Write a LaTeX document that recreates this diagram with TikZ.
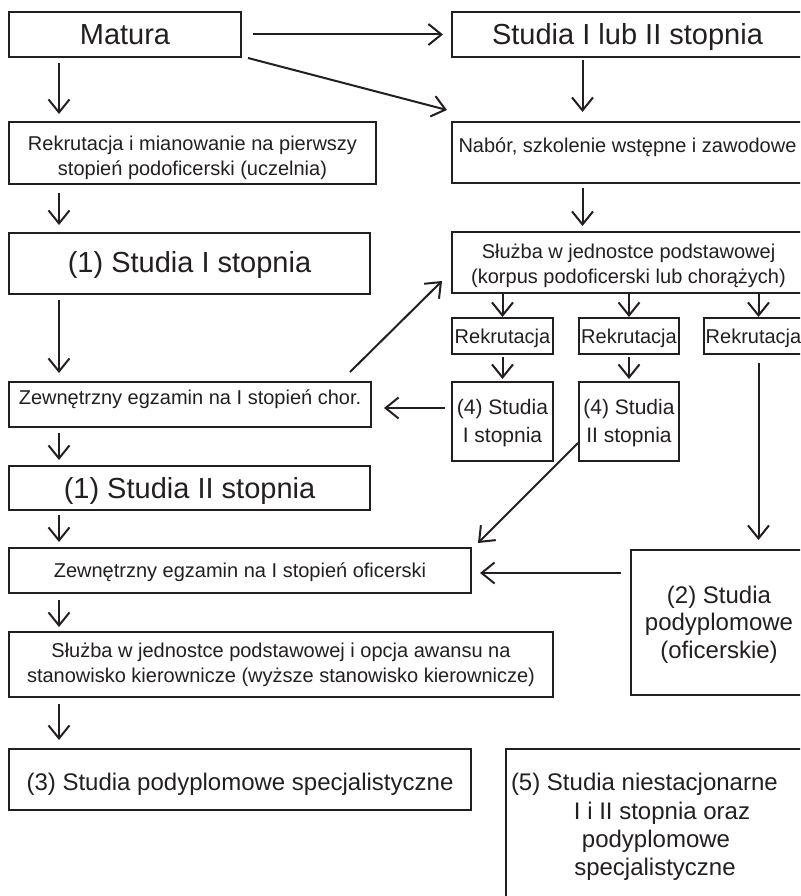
\documentclass[tikz,border=0pt]{standalone}
\usepackage{fontspec}
\setmainfont{Liberation Sans}
\usetikzlibrary{arrows.meta,calc}
\definecolor{ink}{HTML}{231F20}
\begin{document}
\begin{tikzpicture}[x=1pt,y=-1pt,
  box/.style={draw=ink, line width=2pt, text=ink, inner sep=0pt, outer sep=0pt},
  big/.style={font=\fontsize{29}{33}\selectfont, text height=21pt, text depth=0pt},
  mid/.style={font=\fontsize{20}{25}\selectfont},
  mid1/.style={mid, text height=14.3pt, text depth=0pt},
  midf/.style={font=\fontsize{21}{28}\selectfont},
  lrg/.style={font=\fontsize{24}{27.5}\selectfont},
  lrg1/.style={lrg, text height=21.2pt, text depth=0pt},
  arr/.style={draw=ink, line width=2pt, -{Straight Barb[length=13pt,width=21pt]}},
  lbl/.style={text=ink, inner sep=0pt, outer sep=0pt, font=\fontsize{24}{28}\selectfont}
]
\useasboundingbox (0,0) rectangle (800,896);
\clip (0,0) rectangle (800,896);
\fill[white] (0,0) rectangle (800,896);

% left column
\node[box,big,minimum width=232pt,minimum height=45pt] (matura) at (125,34.5) {Matura};
\node[box,mid,align=center,minimum width=367pt,minimum height=62pt] (rekr1) at (192.5,153) {\rule{0pt}{23.2pt}Rekrutacja i mianowanie na pierwszy\\stopień podoficerski (uczelnia)};
\node[box,big,text depth=4pt,minimum width=361pt,minimum height=61pt] (st1) at (189.5,263.5) {(1) Studia I stopnia};
\node[box,mid1,text depth=15pt,minimum width=362pt,minimum height=45pt] (chor) at (190,404.5) {Zewnętrzny egzamin na I stopień chor.};
\node[box,big,minimum width=361pt,minimum height=44pt] (st2) at (189.5,488) {(1) Studia II stopnia};
\node[box,mid1,minimum width=462pt,minimum height=45pt] (ofic) at (240,570.5) {Zewnętrzny egzamin na I stopień oficerski};
\node[box,mid,align=center,minimum width=544pt,minimum height=65pt] (sluzba2) at (281,664.5) {Służba w jednostce podstawowej i opcja awansu na\\stanowisko kierownicze (wyższe stanowisko kierownicze)};
\node[box,lrg1,minimum width=462pt,minimum height=61pt] (spec3) at (240,779.5) {(3) Studia podyplomowe specjalistyczne};

% right column
\node[box,big,minimum width=351pt,minimum height=45pt] (studia12) at (627.5,34.5) {Studia I lub II stopnia};
\node[box,mid1,text depth=14pt,minimum width=351pt,minimum height=61pt] (nabor) at (627.5,152.5) {Nabór, szkolenie wstępne i zawodowe};
\node[box,mid,align=center,minimum width=353pt,minimum height=61pt] (sluzba1) at (628.5,262.5) {\rule{0pt}{20.2pt}Służba w jednostce podstawowej\\(korpus podoficerski lub chorążych)};
\node[box,mid1,minimum width=101pt,minimum height=36pt] (rka) at (502.5,336) {Rekrutacja};
\node[box,mid1,minimum width=100pt,minimum height=36pt] (rkb) at (629,336) {Rekrutacja};
\node[box,mid1,minimum width=100pt,minimum height=36pt] (rkc) at (753.5,336) {Rekrutacja};
\node[box,midf,align=center,minimum width=101pt,minimum height=79pt] (s4a) at (502.5,421.5) {\rule{0pt}{19.3pt}(4) Studia\\I stopnia};
\node[box,midf,align=center,minimum width=100pt,minimum height=79pt] (s4b) at (629,421.5) {\rule{0pt}{19.3pt}(4) Studia\\II stopnia};
\node[box,lrg,align=center,minimum width=176pt,minimum height=145pt] (pody2) at (719,622.5) {\rule{0pt}{21pt}(2) Studia\\podyplomowe\\(oficerskie)};
\node[box,minimum width=314pt,minimum height=161pt,anchor=north west] (s5) at (506,749) {};
\node[lbl,anchor=base west] (s5a) at (511,790) {(5) Studia niestacjonarne};
\node[lbl,anchor=base] (s5b) at (662,819) {I i II stopnia oraz};
\node[lbl,anchor=base] (s5c) at (656,847) {podyplomowe};
\node[lbl,anchor=base] (s5d) at (655,875) {specjalistyczne};

% connectors, left column
\draw[arr,shorten <=6pt,shorten >=8pt] ([xshift=50pt]matura.south west) -- ([xshift=50pt]rekr1.north west);
\draw[arr,shorten <=9pt,shorten >=8pt] ([xshift=50pt]rekr1.south west) -- ([xshift=50pt]st1.north west);
\draw[arr,shorten <=6pt,shorten >=9pt] ([xshift=50pt]st1.south west) -- ([xshift=50pt]chor.north west);
\draw[arr,shorten <=6pt,shorten >=6pt] ([xshift=50pt]chor.south west) -- ([xshift=50pt]st2.north west);
\draw[arr,shorten <=5pt,shorten >=6pt] ([xshift=50pt]st2.south west) -- ([xshift=50pt]ofic.north west);
\draw[arr,shorten <=7pt,shorten >=5pt] ([xshift=50pt]ofic.south west) -- ([xshift=50pt]sluzba2.north west);
\draw[arr,shorten <=7pt,shorten >=9pt] ([xshift=50pt]sluzba2.south west) -- ([xshift=50pt]spec3.north west);

% connectors from Matura
\draw[arr,shorten <=12pt,shorten >=9pt] (matura.east) -- (studia12.west);
\draw[arr] ($(matura.south east)+(7,1)$) -- ($(nabor.north west)+(-5,-12)$);

% right column
\draw[arr,shorten <=3pt,shorten >=10pt] ([xshift=130.5pt]studia12.south west) -- ([xshift=130.5pt]nabor.north west);
\draw[arr,shorten <=5pt,shorten >=6pt] ([xshift=130.5pt]nabor.south west) -- ([xshift=130.5pt]sluzba1.north west);
\draw[arr,shorten >=1pt] (sluzba1.south -| rka.north) -- (rka.north);
\draw[arr,shorten >=1pt] (sluzba1.south -| rkb.north) -- (rkb.north);
\draw[arr,shorten >=1pt] ([xshift=55pt]rkc.north west |- sluzba1.south) -- ([xshift=55pt]rkc.north west);
\draw[arr,shorten <=3pt,shorten >=3pt] (rka.south) -- (s4a.north);
\draw[arr,shorten <=3pt,shorten >=3pt] (rkb.south) -- (s4b.north);
\draw[arr,shorten <=9pt,shorten >=10pt] ([xshift=55pt]rkc.south west) -- ([xshift=55pt]rkc.south west |- pody2.north);

% cross connectors
\draw[arr,shorten <=7pt,shorten >=13pt] ([yshift=13.5pt]s4a.west) -- ([yshift=-3.5pt]chor.east);
\draw[arr] ($(chor.north east)+(-21,-10)$) -- ($(sluzba1.south west)+(-10,-12)$);
\draw[arr] ($(s4b.south west)+(-1,-18)$) -- ($(ofic.north east)+(7,-5)$);
\draw[arr] ($(pody2.west)+(-10,-49.5)$) -- ($(ofic.east)+(9,2.5)$);
\end{tikzpicture}
\end{document}
